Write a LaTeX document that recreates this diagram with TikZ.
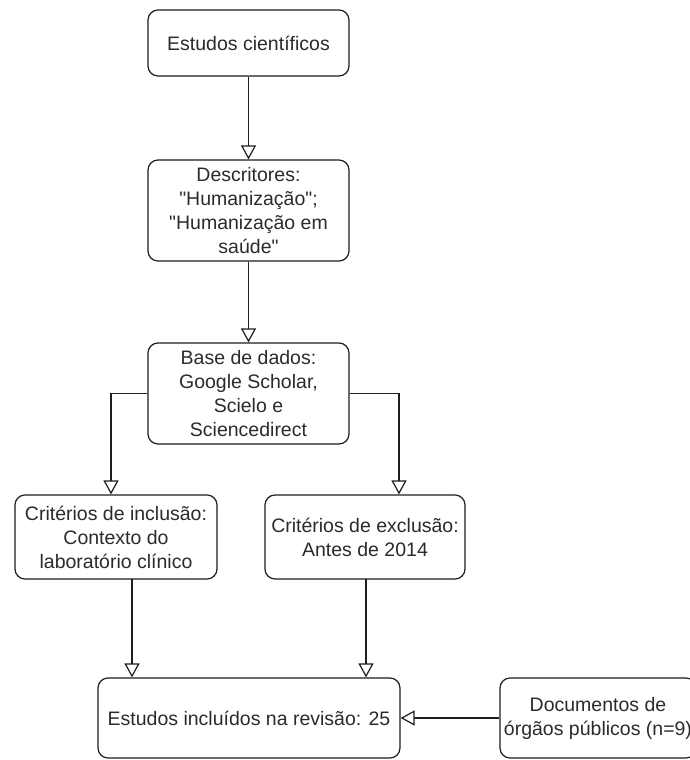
\documentclass[tikz,border=0pt]{standalone}
\usepackage{fontspec}
\setmainfont{Liberation Sans}[Ligatures=TeXOff]
\usetikzlibrary{arrows.meta,calc}
\definecolor{txt}{HTML}{2B2B2B}
\definecolor{ln}{HTML}{1E1E1E}
\begin{document}
\begin{tikzpicture}[x=1pt,y=-1pt,
  box/.style={draw=ln, line width=1.2pt, rounded corners=10pt, align=center, inner sep=1pt,
    font=\fontsize{19.5}{24}\selectfont, text=txt},
  arr/.style={draw=ln, line width=1.2pt, -{Triangle[open,length=14pt,width=15pt,fill=white]}}]
\useasboundingbox (0,0) rectangle (690,760);
\clip (0,0) rectangle (690,760);
\fill[white] (0,0) rectangle (690,760);

\node[box, minimum width=201pt, minimum height=66pt] (b1) at (248.5,43) {Estudos científicos};
\node[box, minimum width=201pt, minimum height=101pt] (b2) at (248.5,210.5)
  {Descritores:\\"Humanização";\\"Humanização em\\saúde"};
\node[box, minimum width=201pt, minimum height=101pt] (b3) at (248.5,393.5)
  {Base de dados:\\Google Scholar,\\Scielo e\\Sciencedirect};
\node[box, minimum width=202pt, minimum height=84pt] (b4) at (116,537)
  {Critérios de inclusão:\\Contexto do\\laboratório clínico};
\node[box, minimum width=200pt, minimum height=84pt] (b5) at (365,537)
  {Critérios de exclusão:\\Antes de 2014};
\node[box, minimum width=302pt, minimum height=80pt] (b6) at (249,718)
  {Estudos incluídos na revisão: 25};
\node[box, minimum width=196pt, minimum height=80pt] (b7) at (598,718)
  {Documentos de\\órgãos públicos (n=9)};

\coordinate (cL) at (111,393.5);
\coordinate (cR) at (399,393.5);
\draw[arr] (b1.south) -- (b2.north);
\draw[arr] (b2.south) -- (b3.north);
\draw[arr] (b3.west) -- (cL) -- (cL |- b4.north);
\draw[arr] (b3.east) -- (cR) -- (cR |- b5.north);
\coordinate (d4) at (132,579);
\coordinate (d5) at (366,579);
\draw[arr] (d4) -- (d4 |- b6.north);
\draw[arr] (d5) -- (d5 |- b6.north);
\draw[arr] (b7.west) -- (b6.east);
\end{tikzpicture}
\end{document}
